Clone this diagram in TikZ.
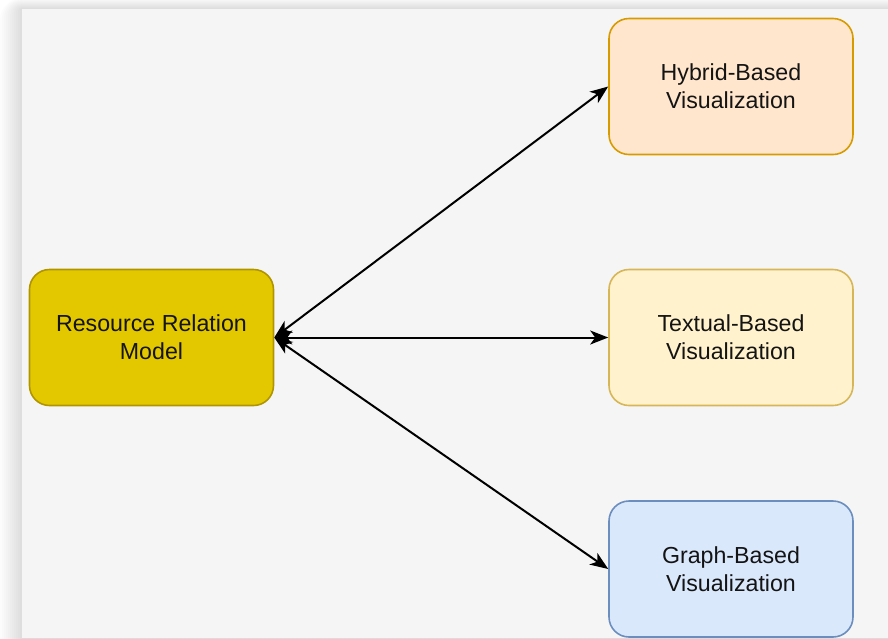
\documentclass[tikz,border=0pt]{standalone}
\usepackage{fontspec}
\setmainfont{Liberation Sans}
\usetikzlibrary{arrows.meta}
\definecolor{panel}{HTML}{F5F5F5}
\definecolor{rrfill}{HTML}{E3C800}
\definecolor{rrline}{HTML}{B09500}
\definecolor{hyfill}{HTML}{FFE6CC}
\definecolor{hyline}{HTML}{D79B00}
\definecolor{txfill}{HTML}{FFF2CC}
\definecolor{txline}{HTML}{D6B656}
\definecolor{grfill}{HTML}{DAE8FC}
\definecolor{grline}{HTML}{6C8EBF}
\definecolor{txt}{HTML}{141414}
\tikzset{
  box/.style={draw, line width=1.6pt, rounded corners=20pt, minimum width=244pt, minimum height=136pt,
    align=center, text=txt, font=\fontsize{23.2}{28}\selectfont, inner sep=0pt},
  conn/.style={line width=2pt, black, {Stealth[length=18pt,width=14pt,inset=5pt]}-{Stealth[length=18pt,width=14pt,inset=5pt]}}
}
\begin{document}
\begin{tikzpicture}[x=1pt,y=-1pt]
\useasboundingbox (0,0) rectangle (888,638);
\fill[white] (0,0) rectangle (888,638);
\foreach \k in {0,...,11}{
  \fill[black, opacity=0.013, rounded corners=2*\k] (22-2*\k,9-\k) rectangle (950,700);
}
\fill[panel] (22,9) rectangle (888,638);
\node[box, fill=rrfill, draw=rrline] (rr) at (151.5,337.5) {Resource Relation\\Model};
\node[box, fill=hyfill, draw=hyline] (hy) at (731,86.5) {Hybrid-Based\\Visualization};
\node[box, fill=txfill, draw=txline] (tx) at (731,337.5) {Textual-Based\\Visualization};
\node[box, fill=grfill, draw=grline] (gr) at (731,569) {Graph-Based\\Visualization};
\draw[conn] (rr.east) -- (hy.west);
\draw[conn] (rr.east) -- (tx.west);
\draw[conn] (rr.east) -- (gr.west);
\end{tikzpicture}
\end{document}
